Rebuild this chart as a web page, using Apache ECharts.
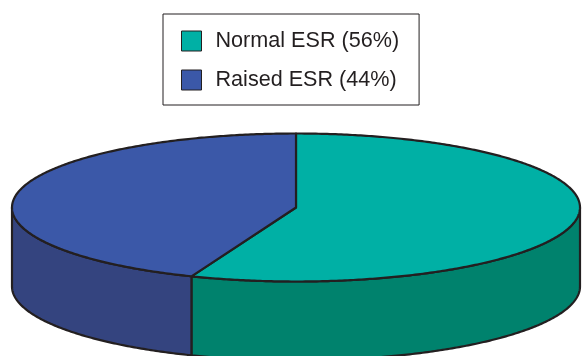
<!DOCTYPE html>
<html>
<head>
<meta charset="utf-8">
<script src="https://cdn.jsdelivr.net/npm/echarts@6/dist/echarts.min.js"></script>
<style>html,body{margin:0;padding:0;background:#fff}#c{width:582px;height:356px}</style>
</head>
<body>
<div id="c"></div>
<script>
const categories = ['Normal ESR', 'Raised ESR'];
const values = [56, 44];
const topColors = ['#00B0A5', '#3B58A8'];
const sideColors = ['#00826D', '#34447F'];

const total = values.reduce((a, b) => a + b, 0);
const CX = 296, CY = 207.5, RX = 284, RY = 74, DEPTH = 79;
const LINE = '#231F20';

function pt(a, dy) {
  return [CX + RX * Math.sin(a), CY - RY * Math.cos(a) + dy];
}
function arc(a0, a1, dy) {
  const n = Math.max(2, Math.ceil(Math.abs(a1 - a0) / 0.01));
  const out = [];
  for (let k = 0; k <= n; k++) out.push(pt(a0 + (a1 - a0) * k / n, dy));
  return out;
}

function renderItem(params, api) {
  const i = params.seriesIndex;
  let start = 0;
  for (let k = 0; k < i; k++) start += values[k];
  const v = api.value(0);
  const a0 = start / total * 2 * Math.PI;
  const a1 = (start + v) / total * 2 * Math.PI;
  const children = [];
  const s = Math.max(a0, Math.PI / 2), e = Math.min(a1, 3 * Math.PI / 2);
  if (s < e) {
    const pts = arc(s, e, 0).concat(arc(e, s, DEPTH));
    children.push({
      type: 'polygon',
      shape: { points: pts },
      style: { fill: sideColors[i], stroke: LINE, lineWidth: 2.2, lineJoin: 'round' }
    });
  }
  const topPts = [[CX, CY]].concat(arc(a0, a1, 0));
  children.push({
    type: 'polygon',
    shape: { points: topPts },
    style: { fill: topColors[i], stroke: LINE, lineWidth: 2.2, lineJoin: 'round' }
  });
  return { type: 'group', children: children };
}

const chart = echarts.init(document.getElementById('c'), null, { renderer: 'canvas' });
chart.setOption({
  animation: false,
  backgroundColor: '#ffffff',
  legend: {
    left: 163,
    top: 14,
    orient: 'vertical',
    icon: 'rect',
    itemWidth: 20,
    itemHeight: 20,
    itemGap: 17,
    padding: [16, 20, 14, 18],
    borderColor: LINE,
    borderWidth: 1,
    selectedMode: false,
    itemStyle: { borderColor: LINE, borderWidth: 1 },
    textStyle: { fontFamily: 'Liberation Sans', fontSize: 21.6, color: LINE, padding: [0, 0, 0, 9] },
    formatter: function (name) {
      const idx = categories.indexOf(name);
      return name + ' (' + Math.round(values[idx] / total * 100) + '%)';
    },
    data: categories
  },
  series: categories.map((name, i) => ({
    type: 'custom',
    name: name,
    coordinateSystem: 'none',
    color: topColors[i],
    renderItem: renderItem,
    data: [values[i]]
  }))
});
</script>
</body>
</html>
